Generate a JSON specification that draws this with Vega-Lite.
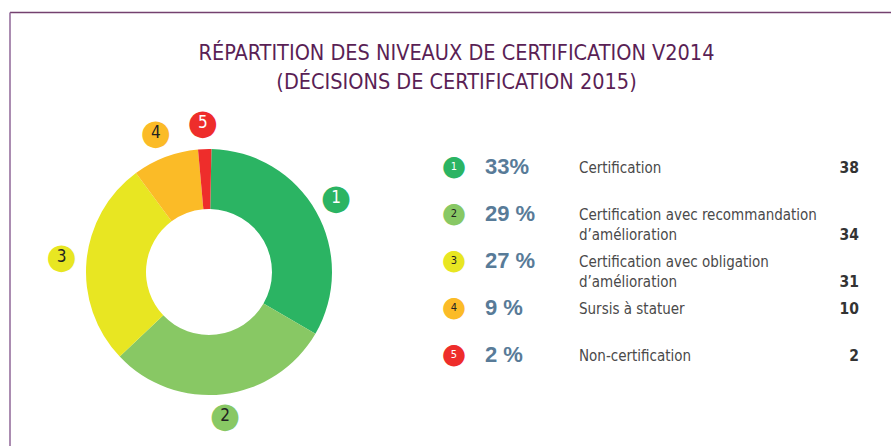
{
  "$schema": "https://vega.github.io/schema/vega-lite/v6.json",
  "width": 891,
  "height": 446,
  "autosize": {"type": "none"},
  "padding": 0,
  "background": "white",
  "config": {"view": {"stroke": null}},
  "title": {
    "text": ["RÉPARTITION DES NIVEAUX DE CERTIFICATION V2014", "(DÉCISIONS DE CERTIFICATION 2015)"],
    "anchor": "middle",
    "frame": "group",
    "orient": "top",
    "baseline": "alphabetic",
    "offset": -110,
    "dx": 11,
    "font": "DejaVu Sans Condensed, sans-serif",
    "fontSize": 21.5,
    "fontWeight": "normal",
    "lineHeight": 29,
    "color": "#5a1f55"
  },
  "data": {
    "values": [
      {"id": 1, "pct": "33%", "label": "Certification", "count": 38},
      {"id": 2, "pct": "29 %", "label": "Certification avec recommandation\nd’amélioration", "count": 34},
      {"id": 3, "pct": "27 %", "label": "Certification avec obligation\nd’amélioration", "count": 31},
      {"id": 4, "pct": "9 %", "label": "Sursis à statuer", "count": 10},
      {"id": 5, "pct": "2 %", "label": "Non-certification", "count": 2}
    ]
  },
  "transform": [
    {"calculate": "(indexof(datum.label, '\\n') >= 0 ? '\\n' : '') + datum.count", "as": "countText"}
  ],
  "layer": [
    {
      "data": {"values": [{}]},
      "mark": {"type": "rule", "color": "#74416f", "strokeWidth": 1.5},
      "encoding": {"x": {"value": 10}, "x2": {"value": 891}, "y": {"value": 12.5}}
    },
    {
      "data": {"values": [{}]},
      "mark": {"type": "rule", "color": "#8f6697", "strokeWidth": 1.5},
      "encoding": {"x": {"value": 10}, "y": {"value": 12.5}, "y2": {"value": 446}}
    },
    {
      "mark": {"type": "arc", "x": 209, "y": 272, "radius": 123, "radius2": 63},
      "encoding": {
        "theta": {"field": "count", "type": "quantitative", "stack": true, "scale": {"range": [0.02, 6.303]}},
        "order": {"field": "id", "type": "quantitative"},
        "color": {"field": "id", "type": "nominal", "legend": null,
          "scale": {"domain": [1, 2, 3, 4, 5], "range": ["#2bb463", "#88c864", "#e8e622", "#fbbb27", "#ee2d2b"]}}
      }
    },
    {
      "mark": {"type": "text", "x": 208, "y": 270, "radius": 147, "text": "●", "font": "DejaVu Sans", "fontSize": 35, "baseline": "middle", "align": "center"},
      "encoding": {
        "theta": {"field": "count", "type": "quantitative", "stack": true},
        "order": {"field": "id", "type": "quantitative"},
        "color": {"field": "id", "type": "nominal", "legend": null}
      }
    },
    {
      "mark": {"type": "text", "x": 208, "y": 270, "radius": 147, "font": "DejaVu Sans Condensed, sans-serif", "fontSize": 17, "baseline": "middle", "align": "center"},
      "encoding": {
        "theta": {"field": "count", "type": "quantitative", "stack": true},
        "order": {"field": "id", "type": "quantitative"},
        "text": {"field": "id", "type": "nominal"},
        "color": {"condition": {"test": "datum.id == 1 || datum.id == 5", "value": "white"}, "value": "#222222"}
      }
    },
    {
      "mark": {"type": "text", "text": "●", "font": "DejaVu Sans", "fontSize": 28, "baseline": "middle", "align": "center"},
      "encoding": {
        "x": {"value": 454},
        "y": {"field": "id", "type": "quantitative", "axis": null, "scale": {"domain": [1, 5], "range": [166.7, 355]}},
        "color": {"field": "id", "type": "nominal", "legend": null}
      }
    },
    {
      "mark": {"type": "text", "font": "DejaVu Sans Condensed, sans-serif", "fontSize": 11, "baseline": "middle", "align": "center"},
      "encoding": {
        "x": {"value": 454},
        "y": {"field": "id", "type": "quantitative"},
        "text": {"field": "id", "type": "nominal"},
        "color": {"condition": {"test": "datum.id == 1 || datum.id == 5", "value": "white"}, "value": "#222222"}
      }
    },
    {
      "mark": {"type": "text", "font": "Liberation Sans", "fontWeight": "bold", "fontSize": 22, "baseline": "middle", "align": "left", "color": "#587b98"},
      "encoding": {
        "x": {"value": 485},
        "y": {"field": "id", "type": "quantitative"},
        "text": {"field": "pct", "type": "nominal"}
      }
    },
    {
      "mark": {"type": "text", "font": "DejaVu Sans Condensed, sans-serif", "fontSize": 15, "baseline": "alphabetic", "dy": 6, "lineHeight": 20, "lineBreak": "\n", "align": "left", "color": "#4a4a4a"},
      "encoding": {
        "x": {"value": 579},
        "y": {"field": "id", "type": "quantitative"},
        "text": {"field": "label", "type": "nominal"}
      }
    },
    {
      "mark": {"type": "text", "font": "DejaVu Sans Condensed, sans-serif", "fontWeight": "bold", "fontSize": 15.5, "baseline": "alphabetic", "dy": 6, "lineHeight": 20, "lineBreak": "\n", "align": "right", "color": "#333333"},
      "encoding": {
        "x": {"value": 859},
        "y": {"field": "id", "type": "quantitative"},
        "text": {"field": "countText", "type": "nominal"}
      }
    }
  ]
}
